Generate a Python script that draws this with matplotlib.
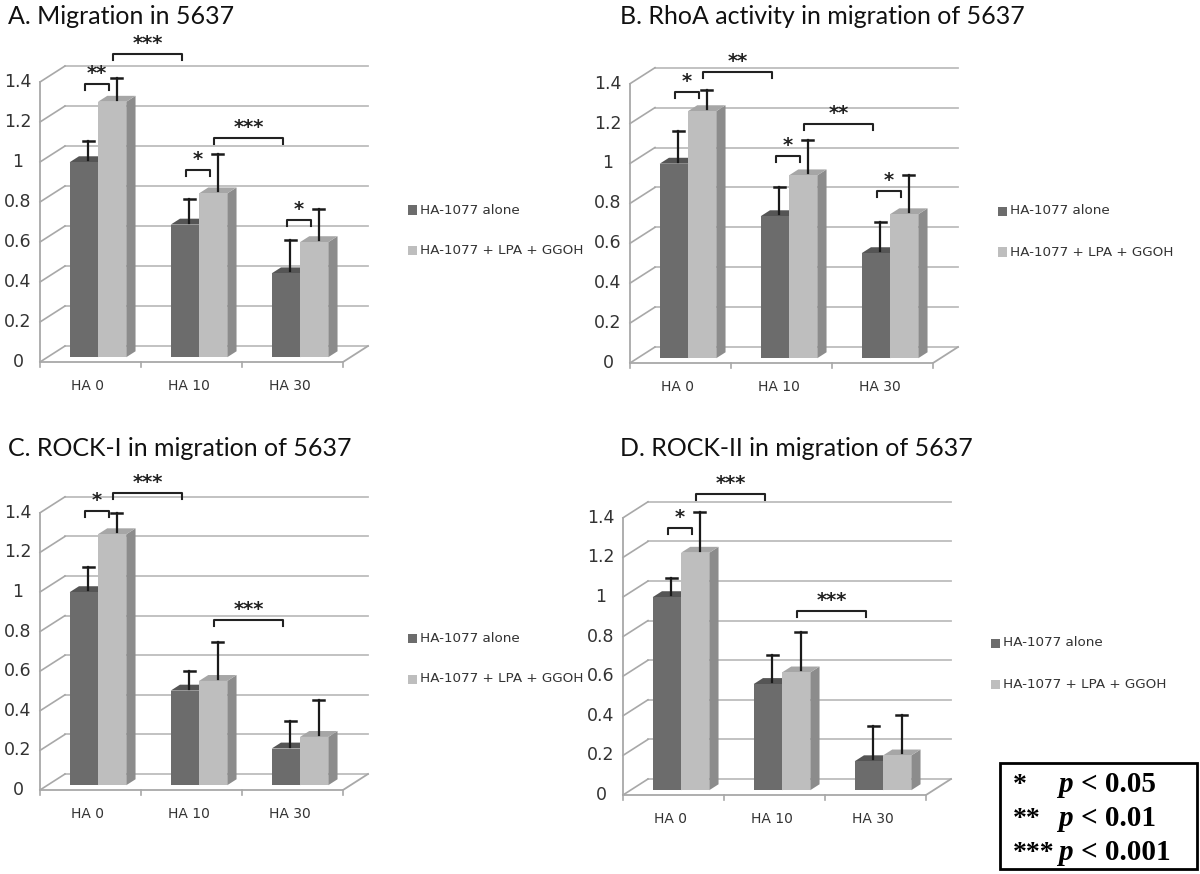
import numpy as np
import matplotlib.pyplot as plt
from matplotlib.patches import Polygon

W, H = 1200, 874

groups = ['HA 0', 'HA 10', 'HA 30']
series = ['HA-1077 alone', 'HA-1077 + LPA + GGOH']
yticks = [0, 0.2, 0.4, 0.6, 0.8, 1.0, 1.2, 1.4]
ytick_labels = ['0', '0.2', '0.4', '0.6', '0.8', '1', '1.2', '1.4']

titles = ['A. Migration in 5637',
          'B. RhoA activity in migration of 5637',
          'C. ROCK-I in migration of 5637',
          'D. ROCK-II in migration of 5637']

# values
alone_a = [1.0, 0.68, 0.43]
err_alone_a = [0.10, 0.12, 0.16]
combo_a = [1.31, 0.84, 0.59]
err_combo_a = [0.11, 0.19, 0.16]

alone_b = [1.0, 0.73, 0.54]
err_alone_b = [0.16, 0.14, 0.15]
combo_b = [1.27, 0.94, 0.74]
err_combo_b = [0.10, 0.17, 0.19]

alone_c = [1.0, 0.49, 0.19]
err_alone_c = [0.12, 0.09, 0.13]
combo_c = [1.30, 0.54, 0.25]
err_combo_c = [0.10, 0.19, 0.18]

alone_d = [1.0, 0.55, 0.15]
err_alone_d = [0.09, 0.14, 0.17]
combo_d = [1.23, 0.61, 0.18]
err_combo_d = [0.20, 0.20, 0.20]

# significance brackets: (bar from, bar to, bracket height, stars); bar = group*2 + series
sig_a = [(0, 1, 1.39, '**'), (1, 2, 1.54, '***'), (2, 3, 0.96, '*'),
         (3, 4, 1.12, '***'), (4, 5, 0.71, '*')]
sig_b = [(0, 1, 1.36, '*'), (1, 2, 1.46, '**'), (2, 3, 1.04, '*'),
         (3, 4, 1.20, '**'), (4, 5, 0.86, '*')]
sig_c = [(0, 1, 1.41, '*'), (1, 2, 1.50, '***'), (3, 4, 0.86, '***')]
sig_d = [(0, 1, 1.35, '*'), (1, 2, 1.52, '***'), (3, 4, 0.93, '***')]

pvals = ['*', '**', '***']
pthr = ['< 0.05', '< 0.01', '< 0.001']

dark = ('#6c6c6c', '#555555', '#5e5e5e')     # front, top, side
light = ('#bebebe', '#a6a6a6', '#8c8c8c')
grid_c = '#bdbdbd'
axis_c = '#a8a8a8'

CW = 101.0             # px per category
DXp, DYp = 25.0, 16.0  # depth offset in px
Z0, Z1 = 0.30, 0.67
BW = 0.28
K = 0.975              # bars sit behind the front plane, drawn a bit smaller

fig = plt.figure(figsize=(W / 100, H / 100), dpi=100)


def panel(ox, oy, sc, title, tpos, alone, ea, combo, ec, sigs):
    x0, x1, y0, y1 = -0.45, 3.45, -0.22, 1.66
    l = (ox + x0 * CW) / W
    w = (x1 - x0) * CW / W
    b = (H - (oy - y0 * sc)) / H
    h = (y1 - y0) * sc / H
    ax = fig.add_axes([l, b, w, h])
    ax.set_xlim(x0, x1)
    ax.set_ylim(y0, y1)
    ax.axis('off')
    DX, DY = DXp / CW, DYp / sc

    # walls and floor
    for v in yticks:
        ax.plot([DX, 3 + DX], [v + DY, v + DY], color=grid_c, lw=1.3, zorder=1)
        ax.plot([0, DX], [v, v + DY], color=axis_c, lw=1.2, zorder=1)
    ax.plot([0, 0], [0, yticks[-1]], color=axis_c, lw=1.3, zorder=1)
    ax.plot([0, 3, 3 + DX], [0, 0, DY], color=axis_c, lw=1.3, zorder=1)
    for k in range(4):
        ax.plot([k, k], [0, -5 / sc], color=axis_c, lw=1.2, zorder=1)
    for v, lab in zip(yticks, ytick_labels):
        ax.text(-22 / CW, v, lab, ha='center', va='center', fontsize=12.5,
                color='#333333')
    for g, lab in enumerate(groups):
        ax.text(g + 0.47, -24 / sc, lab, ha='center', va='center',
                fontsize=10, color='#333333')

    # 3d bars
    centers = []
    zo = 3
    for g in range(3):
        for s, (vals, errs, col) in enumerate([(alone, ea, dark), (combo, ec, light)]):
            v = vals[g] * K
            e = errs[g] * K
            xa = g + 0.5 - BW + s * BW
            xb = xa + BW
            f = [(xa + Z0 * DX, Z0 * DY), (xb + Z0 * DX, Z0 * DY),
                 (xb + Z0 * DX, v + Z0 * DY), (xa + Z0 * DX, v + Z0 * DY)]
            t = [(xa + Z0 * DX, v + Z0 * DY), (xb + Z0 * DX, v + Z0 * DY),
                 (xb + Z1 * DX, v + Z1 * DY), (xa + Z1 * DX, v + Z1 * DY)]
            sd = [(xb + Z0 * DX, Z0 * DY), (xb + Z1 * DX, Z1 * DY),
                  (xb + Z1 * DX, v + Z1 * DY), (xb + Z0 * DX, v + Z0 * DY)]
            ax.add_patch(Polygon(sd, closed=True, fc=col[2], ec='none', zorder=zo))
            ax.add_patch(Polygon(t, closed=True, fc=col[1], ec='none', zorder=zo))
            ax.add_patch(Polygon(f, closed=True, fc=col[0], ec='none', zorder=zo))
            zm = 0.5 * (Z0 + Z1)
            xc = 0.5 * (xa + xb) + zm * DX
            ytop = v + Z0 * DY + 0.01
            ax.plot([xc, xc], [ytop, ytop + e], color='#1a1a1a', lw=1.6,
                    zorder=zo + 0.5)
            ax.plot([xc - 5.5 / CW, xc + 5.5 / CW], [ytop + e] * 2,
                    color='#1a1a1a', lw=1.8, zorder=zo + 0.5)
            centers.append(0.5 * (xa + xb) + Z0 * DX)
            zo += 1

    # significance brackets
    for i, j, yv, lab in sigs:
        xa, xb = centers[i] + 0.01, centers[j] - 0.03
        tk = 6 / sc
        ax.plot([xa, xa, xb, xb], [yv - tk, yv, yv, yv - tk], color='#222222',
                lw=1.5, zorder=20)
        ax.text(0.5 * (xa + xb), yv + 1 / sc, lab, ha='center', va='bottom',
                fontsize=14, weight='bold', color='#222222', zorder=20)

    # legend
    for s, (lab, col) in enumerate(zip(series, [dark[0], light[0]])):
        yy = oy - 152 + s * 41
        fig.patches.append(plt.Rectangle(((ox + 368) / W, 1 - (yy + 4.5) / H),
                                         9 / W, 9 / H, transform=fig.transFigure,
                                         fc=col, ec='none', figure=fig))
        fig.text((ox + 380) / W, 1 - yy / H, lab, ha='left', va='center',
                 fontsize=9.7, color='#333333')

    fig.text(tpos[0] / W, 1 - tpos[1] / H, title, ha='left', va='center',
             fontsize=18, family='Lato', color='#111111')


panel(40, 362, 200, titles[0], (8, 16), alone_a, err_alone_a, combo_a, err_combo_a, sig_a)
panel(630, 363, 199.5, titles[1], (620, 16), alone_b, err_alone_b, combo_b, err_combo_b, sig_b)
panel(40, 790, 198, titles[2], (8, 448), alone_c, err_alone_c, combo_c, err_combo_c, sig_c)
panel(623, 795, 198, titles[3], (620, 448), alone_d, err_alone_d, combo_d, err_combo_d, sig_d)

# p-value key
fig.patches.append(plt.Rectangle((1000 / W, 1 - 869 / H), 197 / W, 106 / H,
                                 transform=fig.transFigure, fc='white',
                                 ec='black', lw=2, figure=fig))
for k, (st, th) in enumerate(zip(pvals, pthr)):
    yy = 1 - (785 + k * 34) / H
    fig.text(1013 / W, yy, st, ha='left', va='center', fontsize=20,
             family='Liberation Serif', weight='bold')
    fig.text(1058 / W, yy, 'p', ha='left', va='center', fontsize=21,
             family='Liberation Serif', weight='bold', style='italic')
    fig.text(1081 / W, yy, th, ha='left', va='center', fontsize=21,
             family='Liberation Serif', weight='bold')

fig.savefig('out.png', dpi=100)
